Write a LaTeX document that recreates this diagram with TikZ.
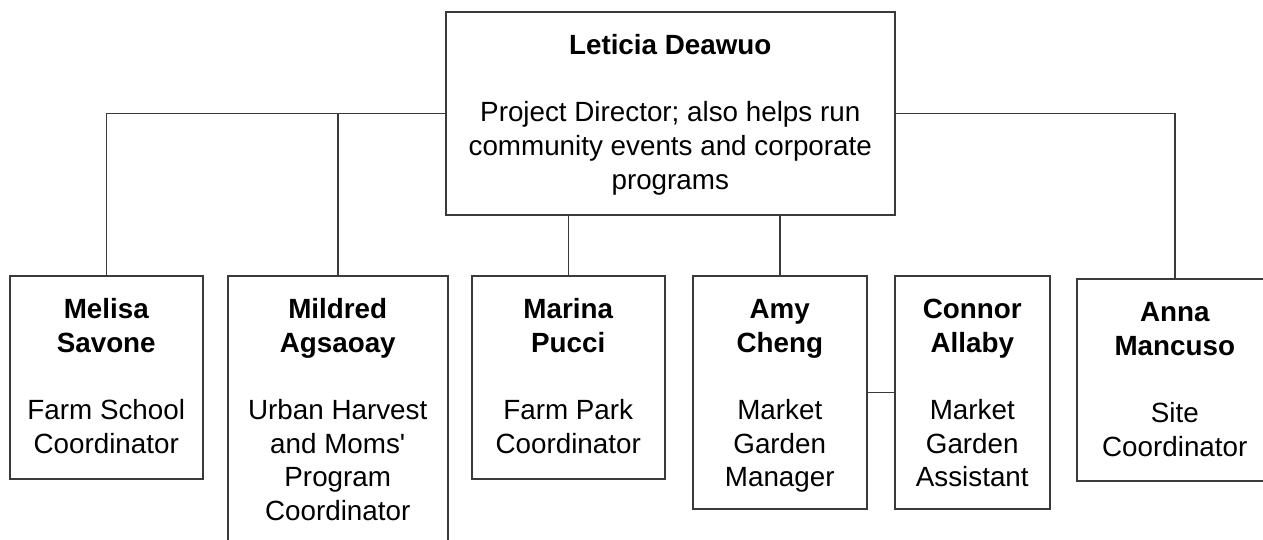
\documentclass[tikz,border=0pt]{standalone}
\usepackage{fontspec}
\setmainfont{Liberation Sans}
\usepackage{tikz}
\usetikzlibrary{positioning}
\definecolor{lineGray}{HTML}{3A3A3A}
\tikzstyle{card}=[draw=lineGray, line width=1.5pt, inner sep=0pt, anchor=north west, fill=white]
\tikzstyle{link}=[draw=lineGray, line width=1.5pt]
% width, height, name, role
\newcommand{\cardtext}[4]{%
  \begin{minipage}[t][#2][t]{#1}\centering\fontsize{27.8}{33.6}\selectfont
    \rule{0pt}{43pt}{\bfseries #3}\\[33.6pt]#4%
  \end{minipage}}

\begin{document}
\begin{tikzpicture}[x=1pt, y=-1pt]
      \useasboundingbox (0,0) rectangle (1263,539);
      \clip (0,0) rectangle (1263,539);

      % 代表
      \node[card] (leticia) at (445,11)
        {\cardtext{449pt}{203pt}{Leticia Deawuo}{Project Director; also helps run\\community events and corporate\\programs}};

      % スタッフ
      \node[card] (melisa) at (9,275)
        {\cardtext{193pt}{203pt}{Melisa\\Savone}{Farm School\\Coordinator}};
      \node[card] (mildred) at (227,275)
        {\cardtext{220pt}{280pt}{Mildred\\Agsaoay}{Urban Harvest\\and Moms\textquotesingle\\Program\\Coordinator}};
      \node[card] (marina) at (471,275)
        {\cardtext{193pt}{203pt}{Marina\\Pucci}{Farm Park\\Coordinator}};
      \node[card] (amy) at (692,275)
        {\cardtext{174pt}{233pt}{Amy\\Cheng}{Market\\Garden\\Manager}};
      \node[card] (connor) at (894,275)
        {\cardtext{155pt}{233pt}{Connor\\Allaby}{Market\\Garden\\Assistant}};
      \node[card] (anna) at (1076,278)
        {\cardtext{196pt}{202pt}{Anna\\Mancuso}{Site\\Coordinator}};

      % 代表からの線
      \draw[link] (leticia.west) -| (melisa.north);
      \draw[link] (leticia.west) -| (mildred.north);
      \draw[link] (leticia.east) -| (anna.north);
      \draw[link] (leticia.south) -| (marina.north);
      \draw[link] (leticia.south) -| (amy.north);

      % 横のつながり
      \draw[link] (amy.east) -- (connor.west);
    \end{tikzpicture}
\end{document}
